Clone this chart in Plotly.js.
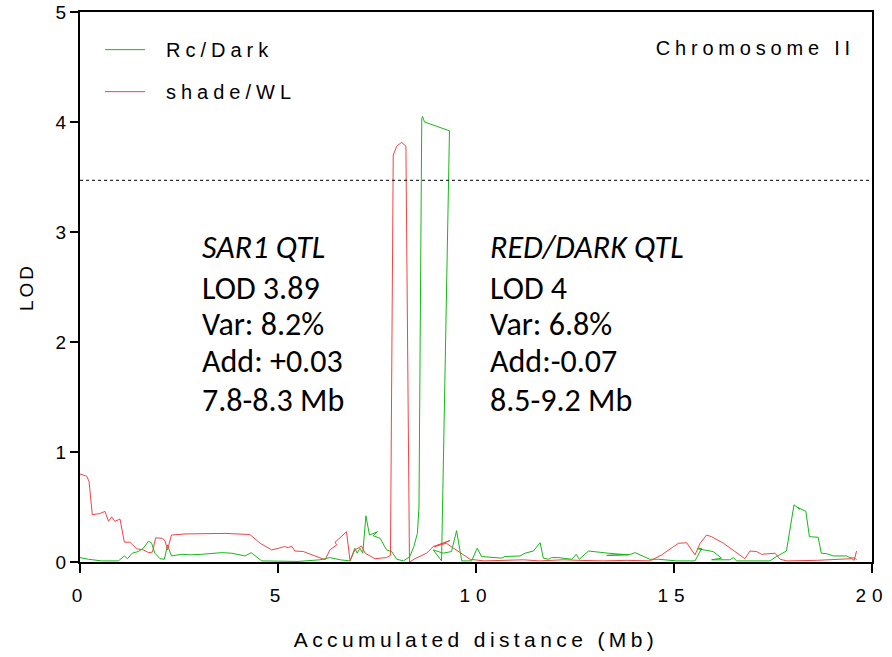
<!DOCTYPE html>
<html>
<head>
<meta charset="utf-8">
<script src="https://cdn.plot.ly/plotly-3.0.1.min.js"></script>
<style>
html,body{margin:0;padding:0;background:#fff;}
#chart{width:892px;height:657px;}
</style>
</head>
<body>
<div id="chart"></div>
<script>
// shade/WL (red)
const redX = [0,0.17,0.23,0.31,0.5,0.63,0.72,0.80,0.88,1.01,1.12,1.26,1.43,1.60,1.73,1.83,1.91,2.08,2.15,2.21,2.31,2.65,3.66,4.29,4.55,4.84,5.01,5.16,5.26,5.34,5.43,5.64,6.19,6.31,6.48,6.44,6.73,6.82,6.94,7.11,7.20,7.45,7.74,7.84,7.91,8.0,8.12,8.23,8.32,8.46,8.75,8.92,9.0,9.34,8.95,9.25,9.51,9.85,10.2,10.9,11.2,11.6,12.2,12.6,13.2,13.8,14.4,14.69,15.11,15.32,15.53,15.66,15.82,15.95,16.25,16.54,16.79,16.92,17.09,17.21,17.55,17.68,17.85,18.6,19.0,19.28,19.49,19.55,19.61];
const redY = [0.80,0.78,0.73,0.43,0.44,0.46,0.37,0.41,0.37,0.39,0.18,0.18,0.12,0.11,0.085,0.09,0.22,0.215,0.19,0.11,0.245,0.255,0.26,0.25,0.17,0.11,0.125,0.14,0.13,0.145,0.10,0.095,0.02,0.11,0.155,0.18,0.275,0.01,0.11,0.145,0.08,0.03,0.04,0.06,3.70,3.78,3.815,3.78,0.0,0.03,0.08,0.14,0.15,0.195,0.14,0.17,0.11,0.025,0.01,0.015,0.02,0.01,0.02,0.015,0.01,0.015,0.01,0.065,0.17,0.175,0.065,0.17,0.245,0.23,0.17,0.095,0.03,0.10,0.095,0.07,0.08,0.025,0.01,0.015,0.02,0.03,0.03,0.015,0.10];

// Rc/Dark (green)
const greenX = [0,0.21,0.55,0.97,1.12,1.20,1.32,1.47,1.60,1.73,1.81,1.89,2.02,2.13,2.21,2.31,2.57,2.78,3.07,3.58,3.83,4.17,4.32,4.59,5.5,6.06,6.31,6.57,6.82,6.94,7.0,7.07,7.14,7.22,7.31,7.51,7.40,7.58,7.74,7.87,8.0,8.17,8.33,8.43,8.52,8.56,8.63,8.65,8.70,9.33,9.13,8.92,9.17,9.38,9.51,9.64,9.89,10.03,10.14,10.65,10.73,11.11,11.24,11.45,11.62,11.70,11.83,11.91,12.08,12.3,12.42,12.53,12.61,12.84,12.96,13.34,13.85,13.3,13.9,14.02,14.14,14.39,14.6,15.07,15.53,15.70,15.6,15.99,16.2,15.95,16.41,16.5,16.58,17.42,17.59,17.84,18.03,18.18,18.10,18.33,18.42,18.64,18.72,18.86,19.02,19.36,19.44,19.57,19.61];
const greenY = [0.04,0.025,0.01,0.01,0.055,0.03,0.08,0.095,0.125,0.19,0.17,0.08,0.03,0.025,0.155,0.055,0.07,0.065,0.07,0.085,0.08,0.055,0.085,0.01,0.005,0.02,0.04,0.02,0.01,0.125,0.08,0.125,0.08,0.42,0.245,0.275,0.24,0.215,0.11,0.095,0.025,0.01,0.05,0.14,0.26,0.5,4.03,4.05,4.0,3.92,0.01,0.11,0.08,0.095,0.285,0.01,0.01,0.125,0.05,0.035,0.05,0.055,0.08,0.10,0.175,0.035,0.025,0.04,0.04,0.03,0.025,0.07,0.025,0.10,0.095,0.08,0.065,0.06,0.07,0.085,0.065,0.025,0.025,0.01,0.01,0.125,0.12,0.095,0.035,0.02,0.02,0.04,0.01,0.01,0.05,0.10,0.52,0.48,0.50,0.46,0.23,0.225,0.08,0.075,0.055,0.055,0.04,0.035,0.02];

const threshold = 3.47;
const xTicks = [0,5,10,15,20];
const yTicks = [0,1,2,3,4,5];

const leftLines = ["<i>SAR1 QTL</i>","LOD 3.89","Var: 8.2%","Add: +0.03","7.8-8.3 Mb"];
const rightLines = ["<i>RED/DARK QTL</i>","LOD 4","Var: 6.8%","Add:-0.07","8.5-9.2 Mb"];
const lineYs = [2.855,2.49,2.155,1.82,1.47];
const leftX = 3.03, rightX = 10.3;

const sans = "'Liberation Sans', Arial, sans-serif";
const calib = "Carlito, Lato, 'Open Sans', sans-serif";

const traces = [
  {x: greenX, y: greenY, type:'scatter', mode:'lines', name:'Rc/Dark', legendgroup:'g',
   line:{color:'#16b816', width:1}},
  {x: redX, y: redY, type:'scatter', mode:'lines', name:'shade/WL', legendgroup:'r',
   line:{color:'#f04545', width:1}}
];

const annotations = [];
leftLines.forEach((t,i)=>annotations.push({x:leftX, y:lineYs[i], xref:'x', yref:'y', text:t, showarrow:false, xanchor:'left', yanchor:'middle', font:{family:calib, size:32, color:'#000'}}));
rightLines.forEach((t,i)=>annotations.push({x:rightX, y:lineYs[i], xref:'x', yref:'y', text:t, showarrow:false, xanchor:'left', yanchor:'middle', font:{family:calib, size:32, color:'#000'}}));
annotations.push({x:(755-80)/792, y:0.9345, xref:'paper', yref:'paper', text:'Chromosome II', showarrow:false, xanchor:'center', yanchor:'middle', font:{family:sans, size:20, color:'#000'}});

const layout = {
  width:892, height:657,
  margin:{l:80, r:20, t:12, b:95},
  paper_bgcolor:'#fff', plot_bgcolor:'#fff',
  showlegend:true,
  legend:{x:(100-80)/792, y:0.967, xanchor:'left', yanchor:'top', bgcolor:'rgba(0,0,0,0)', traceorder:'grouped', tracegroupgap:13, itemwidth:56, font:{family:sans, size:20, color:'#000'}},
  xaxis:{range:[0,20], tickvals:xTicks, ticktext:xTicks.map(String), ticks:'outside', ticklen:9, tickwidth:2, tickcolor:'#000',
    showline:true, linewidth:2, linecolor:'#000', mirror:true, showgrid:false, zeroline:false, ticklabelstandoff:6,
    tickfont:{family:sans, size:19, color:'#000'},
    title:{text:'Accumulated distance (Mb)', standoff:28, font:{family:sans, size:21, color:'#000'}}},
  yaxis:{range:[0,5], tickvals:yTicks, ticktext:yTicks.map(String), ticks:'outside', ticklen:8, tickwidth:2, tickcolor:'#000',
    showline:true, linewidth:2, linecolor:'#000', mirror:true, showgrid:false, zeroline:false,
    tickfont:{family:sans, size:19, color:'#000'},
    title:{text:'LOD', standoff:17, font:{family:sans, size:19, color:'#000'}}},
  shapes:[{type:'line', xref:'paper', x0:0, x1:1, yref:'y', y0:threshold, y1:threshold, line:{color:'#000', width:1, dash:'dot'}}],
  annotations: annotations
};

Plotly.newPlot('chart', traces, layout, {displayModeBar:false, staticPlot:true}).then(()=>{
  const ls = (sel, v) => document.querySelectorAll(sel).forEach(e=>e.style.letterSpacing=v);
  ls('.xtitle', '4.4px');
  ls('.ytitle', '3px');
  ls('.legendtext', '5px');
  ls('.xtick text', '6px');
  document.querySelectorAll('.annotation-text').forEach(e=>{ if(e.textContent==='Chromosome II') e.style.letterSpacing='4.8px'; });
  document.querySelectorAll('.legend [clip-path]').forEach(e=>e.removeAttribute('clip-path'));
  document.querySelectorAll('.legend .legendlines path').forEach(e=>e.setAttribute('d','M5,0h40'));
});
</script>
</body>
</html>
